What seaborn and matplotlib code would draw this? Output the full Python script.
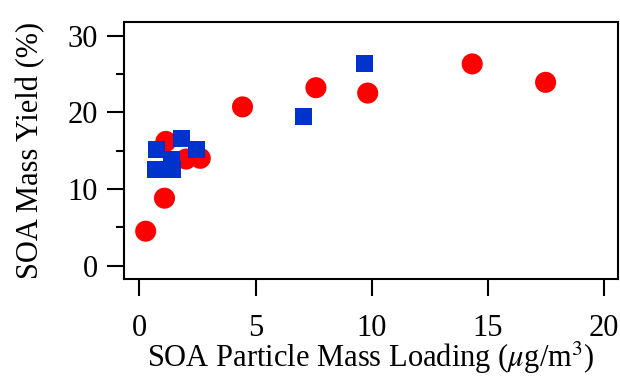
import matplotlib
matplotlib.use("Agg")
import matplotlib.pyplot as plt
import seaborn as sns
import pandas as pd
from matplotlib.ticker import MultipleLocator

# Data
red_x = [0.27, 1.08, 1.14, 2.01, 2.62, 4.44, 7.60, 9.83, 14.33, 17.49]
red_y = [4.5, 8.8, 16.2, 13.9, 14.0, 20.7, 23.2, 22.5, 26.3, 23.9]
blue_x = [0.72, 0.68, 1.41, 1.37, 1.80, 2.45, 7.07, 9.70]
blue_y = [15.2, 12.6, 12.6, 13.8, 16.6, 15.2, 19.4, 26.3]

x_ticks = [0, 5, 10, 15, 20]
y_ticks = [0, 10, 20, 30]

red_df = pd.DataFrame({"x": red_x, "y": red_y})
blue_df = pd.DataFrame({"x": blue_x, "y": blue_y})

sns.set_theme(style="ticks")
plt.rcParams["font.family"] = ["Liberation Serif", "DejaVu Serif"]
plt.rcParams["mathtext.fontset"] = "stix"
plt.rcParams["text.color"] = "black"
plt.rcParams["axes.labelcolor"] = "black"

fig = plt.figure(figsize=(6.2, 3.77), dpi=100)
ax = fig.add_axes([0.2005, 0.26, 0.796, 0.6824])

sns.scatterplot(data=red_df, x="x", y="y", ax=ax, color="#FF0000", marker="o",
                s=230, edgecolor="none", linewidth=0, zorder=3)
sns.scatterplot(data=blue_df, x="x", y="y", ax=ax, color="#0033CC", marker="s",
                s=150, edgecolor="none", linewidth=0, zorder=4)

ax.set_xlim(-0.65, 20.6)
ax.set_ylim(-1.73, 31.8)
ax.set_xticks(x_ticks)
ax.set_yticks(y_ticks)
ax.yaxis.set_minor_locator(MultipleLocator(5))

for sp in ax.spines.values():
    sp.set_linewidth(1.5)
    sp.set_color("black")

ax.tick_params(axis="both", which="major", direction="out", length=12, width=1.5,
               labelsize=22, colors="black")
ax.tick_params(axis="x", which="major", pad=13)
ax.tick_params(axis="y", which="major", pad=7)
ax.tick_params(axis="y", which="minor", direction="out", length=6, width=1.5,
               colors="black")
ax.tick_params(axis="x", which="minor", bottom=False)

ax.set_xlabel(r"SOA Particle Mass Loading ($\mu$g/m$^3$)", fontsize=22, labelpad=-2)
ax.set_ylabel("SOA Mass Yield (%)", fontsize=22, labelpad=16)

fig.savefig("out.png", dpi=100)
